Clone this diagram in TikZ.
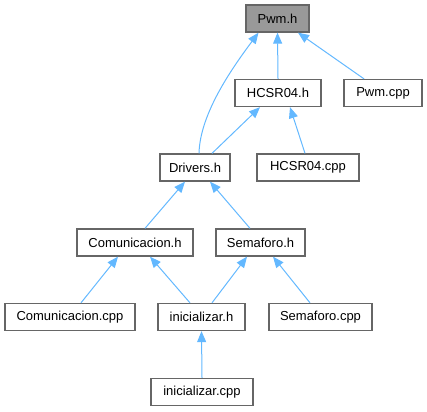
\documentclass[tikz,border=0pt]{standalone}
\usepackage{fontspec}
\setmainfont{Liberation Sans}
\usetikzlibrary{arrows.meta}
\definecolor{edgeblue}{HTML}{63B8FF}
\definecolor{boxborder}{HTML}{666666}
\definecolor{boxgray}{HTML}{999999}
\tikzset{
  file/.style={draw=boxborder, line width=1.3pt, fill=white, minimum height=27pt, inner sep=0pt,
    font=\fontsize{13}{15}\selectfont, text=black},
  cur/.style={file, fill=boxgray},
  dep/.style={draw=edgeblue, line width=1pt, -{Triangle[length=11pt,width=9pt]}},
}
\begin{document}
\begin{tikzpicture}[x=1pt,y=-1pt]
\useasboundingbox (0,0) rectangle (427,411);
\node[cur,  minimum width=63pt]  (pwm)    at (277.5,18.5) {Pwm.h};
\node[file, minimum width=86pt]  (hcsr)   at (278,93) {HCSR04.h};
\node[file, minimum width=78pt]  (pwmcpp) at (383,93) {Pwm.cpp};
\node[file, minimum width=70pt]  (drv)    at (195,167.5) {Drivers.h};
\node[file, minimum width=102pt] (hcsrcpp) at (308,167.5) {HCSR04.cpp};
\node[file, minimum width=116pt] (com)    at (135,242.5) {Comunicacion.h};
\node[file, minimum width=89pt]  (sem)    at (260.5,242.5) {Semaforo.h};
\node[file, minimum width=130pt] (comcpp) at (70,317) {Comunicacion.cpp};
\node[file, minimum width=87pt]  (ini)    at (201.5,317) {inicializar.h};
\node[file, minimum width=103pt] (semcpp) at (320.5,317) {Semaforo.cpp};
\node[file, minimum width=102pt] (inicpp) at (202,392) {inicializar.cpp};

\draw[dep] ([xshift=4pt]drv.north) .. controls ([xshift=5pt,yshift=40pt]drv.north) and ([xshift=-45pt,yshift=-35pt]pwm.south) .. ([xshift=-19pt]pwm.south);
\draw[dep] (hcsr.north) -- (pwm.south);
\draw[dep] ([xshift=-19pt]pwmcpp.north) -- ([xshift=20.5pt]pwm.south);
\draw[dep] ([xshift=17pt]drv.north) -- ([xshift=-18pt]hcsr.south);
\draw[dep] ([xshift=-3pt]hcsrcpp.north) -- ([xshift=12pt]hcsr.south);
\draw[dep] ([xshift=10pt]com.north) -- ([xshift=-10pt]drv.south);
\draw[dep] ([xshift=-10.5pt]sem.north) -- ([xshift=15pt]drv.south);
\draw[dep] ([xshift=11pt]comcpp.north) -- ([xshift=-17pt]com.south);
\draw[dep] ([xshift=-11.5pt]ini.north) -- ([xshift=15pt]com.south);
\draw[dep] ([xshift=10.5pt]ini.north) -- ([xshift=-13.5pt]sem.south);
\draw[dep] ([xshift=-10.5pt]semcpp.north) -- ([xshift=12.5pt]sem.south);
\draw[dep] (inicpp.north) -- (ini.south);
\end{tikzpicture}
\end{document}
